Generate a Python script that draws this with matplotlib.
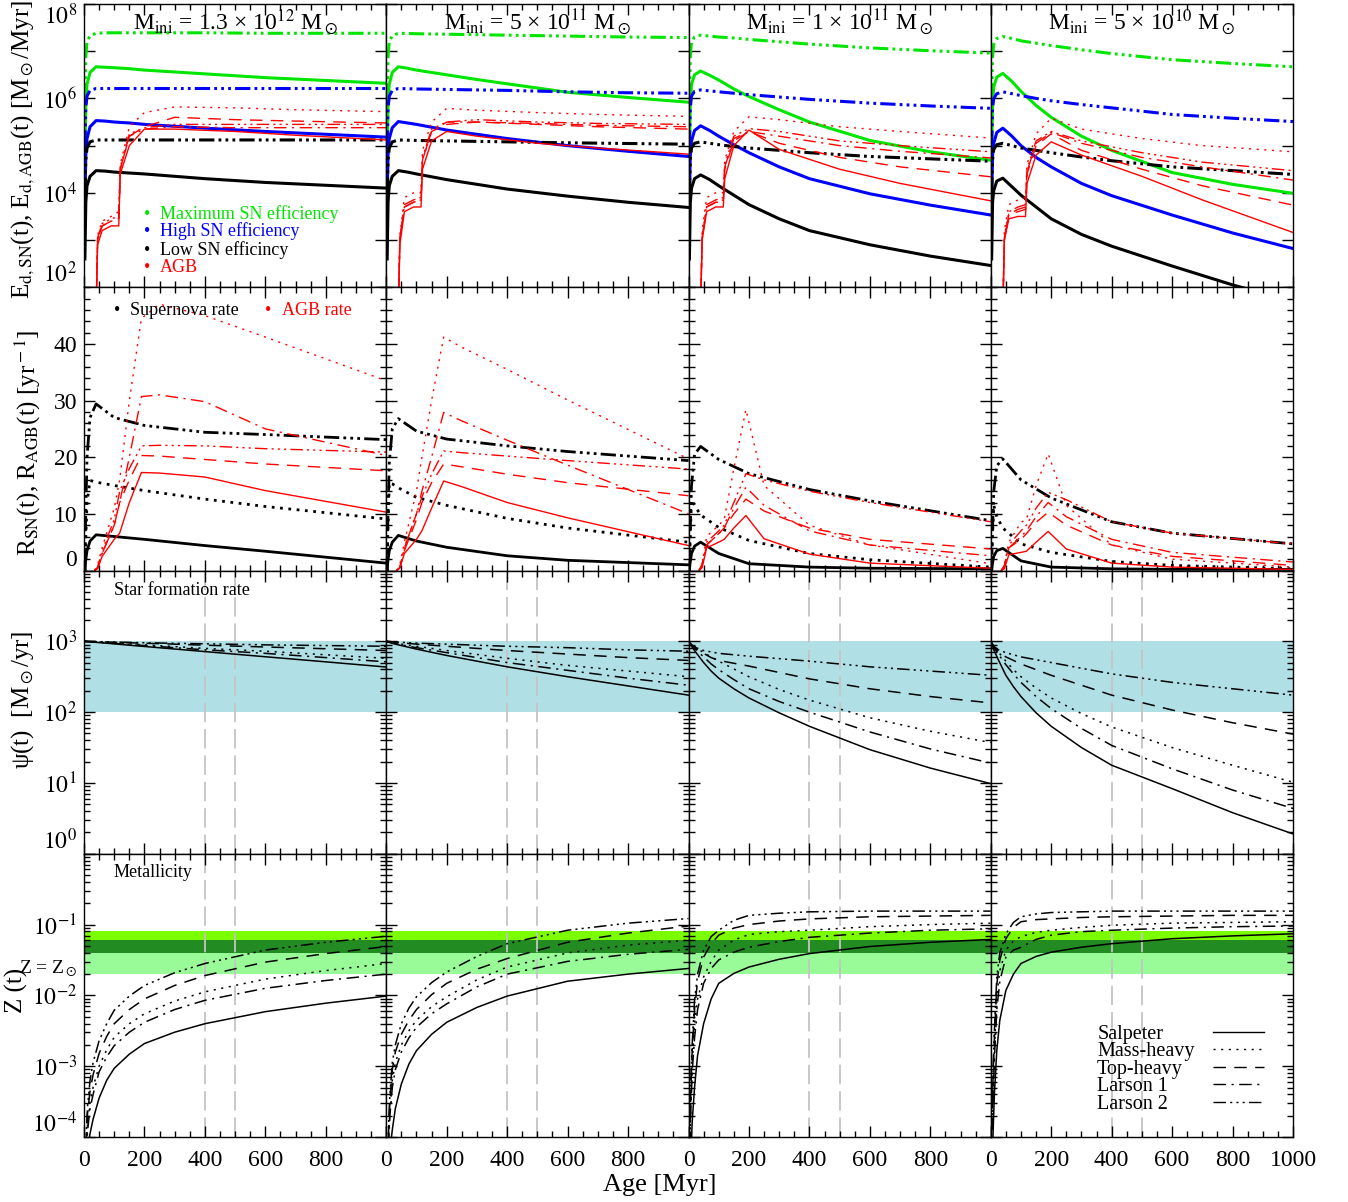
import matplotlib
matplotlib.use("Agg")
import matplotlib.pyplot as plt
import numpy as np
from matplotlib.lines import Line2D
from matplotlib.ticker import MultipleLocator, LogLocator, NullFormatter, NullLocator
import matplotlib.transforms as mtransforms

plt.rcParams['font.family'] = ['Liberation Serif', 'DejaVu Serif']
plt.rcParams['mathtext.fontset'] = 'stix'
plt.rcParams['lines.scale_dashes'] = False

# ---- data ----
masses = ["1.3 \u00d7 10$^{12}$", "5 \u00d7 10$^{11}$", "1 \u00d7 10$^{11}$", "5 \u00d7 10$^{10}$"]
imf_names = ["Salpeter", "Mass-heavy", "Top-heavy", "Larson 1", "Larson 2"]

# row 1: dust production by SNe, log10 [Msun/Myr], one list per column
ages_sn = [3, 6, 10, 20, 40, 70, 100, 150, 200, 300, 400, 600, 800, 1000]
sn_max_larson2 = [[6.0, 6.9, 7.2, 7.33, 7.38, 7.39, 7.39, 7.39, 7.39, 7.39, 7.39, 7.38, 7.38, 7.38],
                  [6.0, 6.9, 7.2, 7.33, 7.38, 7.375, 7.37, 7.365, 7.36, 7.35, 7.34, 7.32, 7.30, 7.29],
                  [6.0, 6.9, 7.2, 7.30, 7.34, 7.32, 7.30, 7.28, 7.25, 7.20, 7.15, 7.07, 7.01, 6.96],
                  [6.0, 6.9, 7.15, 7.27, 7.31, 7.27, 7.22, 7.17, 7.12, 7.03, 6.95, 6.82, 6.74, 6.67]]
sn_max_salpeter = [[4.8, 5.9, 6.3, 6.55, 6.67, 6.66, 6.65, 6.63, 6.60, 6.56, 6.52, 6.44, 6.38, 6.32],
                   [4.8, 5.9, 6.3, 6.55, 6.67, 6.64, 6.60, 6.55, 6.50, 6.40, 6.31, 6.13, 6.02, 5.92],
                   [4.8, 5.9, 6.3, 6.50, 6.58, 6.49, 6.39, 6.20, 6.04, 5.76, 5.50, 5.11, 4.87, 4.69],
                   [4.8, 5.9, 6.25, 6.45, 6.53, 6.36, 6.15, 5.85, 5.60, 5.20, 4.90, 4.43, 4.18, 3.99]]
sn_high_larson2 = [[5.0, 5.8, 6.05, 6.17, 6.21, 6.21, 6.21, 6.21, 6.21, 6.21, 6.21, 6.21, 6.21, 6.21],
                   [5.0, 5.8, 6.05, 6.17, 6.21, 6.205, 6.20, 6.195, 6.19, 6.18, 6.17, 6.14, 6.12, 6.11],
                   [5.0, 5.8, 6.05, 6.15, 6.18, 6.16, 6.14, 6.11, 6.08, 6.03, 5.98, 5.90, 5.84, 5.79],
                   [5.0, 5.8, 6.0, 6.10, 6.14, 6.10, 6.06, 6.00, 5.95, 5.87, 5.80, 5.66, 5.58, 5.51]]
sn_high_salpeter = [[3.9, 4.8, 5.15, 5.40, 5.53, 5.52, 5.50, 5.48, 5.45, 5.41, 5.37, 5.30, 5.24, 5.18],
                    [3.9, 4.8, 5.15, 5.38, 5.51, 5.48, 5.45, 5.39, 5.33, 5.24, 5.15, 5.00, 4.88, 4.77],
                    [3.9, 4.8, 5.1, 5.32, 5.42, 5.32, 5.20, 5.02, 4.85, 4.55, 4.30, 3.98, 3.74, 3.53],
                    [3.9, 4.8, 5.05, 5.28, 5.37, 5.20, 5.00, 4.75, 4.55, 4.20, 3.94, 3.53, 3.15, 2.82]]
sn_low_larson2 = [[4.0, 4.7, 4.95, 5.08, 5.12, 5.12, 5.12, 5.12, 5.12, 5.12, 5.12, 5.12, 5.12, 5.12],
                  [4.0, 4.7, 4.95, 5.08, 5.12, 5.115, 5.11, 5.105, 5.10, 5.09, 5.08, 5.06, 5.045, 5.03],
                  [4.0, 4.7, 4.95, 5.05, 5.08, 5.05, 5.02, 4.98, 4.95, 4.90, 4.85, 4.77, 4.72, 4.67],
                  [4.0, 4.7, 4.92, 5.02, 5.05, 5.00, 4.95, 4.90, 4.85, 4.76, 4.68, 4.55, 4.47, 4.39]]
sn_low_salpeter = [[2.6, 3.8, 4.15, 4.35, 4.47, 4.46, 4.44, 4.42, 4.40, 4.35, 4.30, 4.22, 4.16, 4.10],
                   [2.6, 3.8, 4.15, 4.35, 4.47, 4.44, 4.40, 4.34, 4.28, 4.18, 4.08, 3.93, 3.80, 3.69],
                   [2.6, 3.8, 4.1, 4.30, 4.38, 4.28, 4.15, 3.95, 3.75, 3.45, 3.20, 2.90, 2.66, 2.46],
                   [2.6, 3.8, 4.05, 4.25, 4.31, 4.13, 3.95, 3.70, 3.45, 3.12, 2.87, 2.45, 2.05, 1.70]]

# row 1: dust production by AGB stars, log10, per IMF then per column
ages_agb = [40, 45, 60, 90, 115, 120, 150, 200, 300, 500, 700, 1000]
agb_dust = {
    "Salpeter": [[1.5, 2.9, 3.2, 3.3, 3.3, 4.4, 5.0, 5.35, 5.35, 5.30, 5.22, 5.12],
                 [1.5, 2.9, 3.6, 3.7, 3.7, 4.5, 5.1, 5.30, 5.20, 5.05, 4.95, 4.82],
                 [1.5, 3.0, 3.6, 3.7, 3.7, 4.3, 5.0, 5.33, 4.92, 4.50, 4.20, 3.83],
                 [1.5, 3.0, 3.45, 3.5, 3.5, 4.2, 4.8, 5.08, 4.80, 4.35, 3.85, 3.16]],
    "Mass-heavy": [[1.5, 3.1, 3.4, 3.5, 3.6, 4.6, 5.4, 5.70, 5.82, 5.80, 5.76, 5.72],
                   [1.5, 3.1, 3.9, 4.0, 4.0, 4.9, 5.5, 5.79, 5.75, 5.70, 5.66, 5.62],
                   [1.5, 3.2, 3.9, 4.0, 4.0, 4.7, 5.3, 5.61, 5.55, 5.40, 5.30, 5.16],
                   [1.5, 3.2, 3.75, 3.85, 3.9, 4.6, 5.25, 5.58, 5.35, 5.15, 5.00, 4.87]],
    "Top-heavy": [[1.5, 3.0, 3.3, 3.4, 3.45, 4.5, 5.2, 5.40, 5.60, 5.55, 5.52, 5.48],
                  [1.5, 3.0, 3.7, 3.8, 3.85, 4.7, 5.3, 5.45, 5.50, 5.45, 5.40, 5.35],
                  [1.5, 3.0, 3.7, 3.8, 3.8, 4.5, 5.1, 5.30, 5.05, 4.75, 4.55, 4.34],
                  [1.5, 3.0, 3.55, 3.6, 3.65, 4.4, 5.0, 5.25, 4.90, 4.50, 4.15, 3.74]],
    "Larson 1": [[1.5, 3.0, 3.3, 3.4, 3.45, 4.5, 5.2, 5.35, 5.40, 5.38, 5.38, 5.38],
                 [1.5, 3.0, 3.7, 3.8, 3.85, 4.7, 5.3, 5.50, 5.50, 5.47, 5.43, 5.40],
                 [1.5, 3.0, 3.7, 3.8, 3.85, 4.55, 5.15, 5.30, 5.20, 5.00, 4.88, 4.74],
                 [1.5, 3.0, 3.55, 3.65, 3.7, 4.45, 5.05, 5.28, 5.05, 4.75, 4.55, 4.27]],
    "Larson 2": [[1.5, 3.05, 3.35, 3.45, 3.5, 4.55, 5.25, 5.38, 5.45, 5.45, 5.45, 5.45],
                 [1.5, 3.05, 3.75, 3.85, 3.9, 4.75, 5.35, 5.50, 5.55, 5.50, 5.47, 5.45],
                 [1.5, 3.05, 3.75, 3.85, 3.9, 4.6, 5.2, 5.36, 5.30, 5.10, 5.00, 4.87],
                 [1.5, 3.05, 3.6, 3.7, 3.75, 4.5, 5.1, 5.30, 5.10, 4.85, 4.65, 4.47]],
}

# row 2: supernova rates [1/yr]
ages_snr = [0, 3, 5, 10, 20, 40, 100, 200, 400, 600, 1000]
snr_salpeter = [[0, 0, 1.5, 3.5, 5.2, 6.3, 6.0, 5.5, 4.4, 3.4, 1.3],
                [0, 0, 1.5, 3.5, 5.0, 6.2, 5.2, 4.1, 2.6, 1.8, 1.0],
                [0, 0, 1.2, 3.0, 4.3, 5.0, 3.0, 1.2, 0.6, 0.4, 0.3],
                [0, 0, 1.0, 2.5, 3.5, 3.9, 1.7, 0.6, 0.3, 0.2, 0.2]]
snr_massheavy = [[0, 0, 4, 12, 15.9, 15.6, 15.0, 14.1, 12.6, 11.3, 9.1],
                 [0, 0, 6, 15.5, 15.3, 14.6, 12.9, 11.5, 9.2, 7.5, 5.0],
                 [0, 0, 5, 12.5, 11.5, 9.8, 7.6, 5.3, 3.0, 1.9, 0.6],
                 [0, 0, 5, 11.5, 9.5, 7.5, 4.7, 3.2, 1.6, 0.9, 0.3]]
snr_larson2 = [[0, 0, 8, 20, 27, 29.4, 27.0, 25.6, 24.4, 24.0, 23.1],
               [0, 0, 8, 19, 25, 26.8, 24.6, 23.2, 22.0, 21.0, 19.4],
               [0, 0, 6, 15, 20.5, 21.9, 19.6, 17.1, 14.3, 12.3, 8.8],
               [0, 0, 6, 14, 18.5, 19.7, 16.0, 12.8, 8.6, 6.6, 4.7]]

# row 2: AGB rates [1/yr]
ages_agbr = [35, 45, 60, 100, 118, 150, 190, 250, 400, 600, 1000]
agb_rate = {
    "Salpeter": [[0, 0.3, 2.5, 5.5, 6.6, 12, 17.3, 17.2, 16.5, 14.1, 10.3],
                 [0, 0.5, 3, 5.5, 7, 11, 15.8, 14.8, 12.0, 9.3, 4.4],
                 [0, 0.5, 4, 5, 5.5, 7.5, 9.7, 5.6, 2.9, 1.3, 0.4],
                 [0, 0.3, 2.8, 3.2, 3.4, 5, 6.9, 3.8, 1.3, 0.6, 0.2]],
    "Mass-heavy": [[0, 1, 4, 11, 16, 30, 44.5, 47, 45, 41.2, 33.5],
                   [0, 1, 5, 14, 20, 30, 41.2, 39.4, 35.5, 30.1, 19.7],
                   [0, 1, 6, 8, 9, 18, 28.4, 15, 8, 4.5, 1.2],
                   [0, 1, 5, 8.5, 9, 15, 20.6, 11.5, 4.5, 2.0, 0.6]],
    "Top-heavy": [[0, 0.5, 3, 8, 12, 16, 20.3, 20.2, 19.6, 18.8, 17.6],
                  [0, 0.5, 3.5, 9, 12, 15.5, 18.8, 18.3, 17.0, 15.5, 13.2],
                  [0, 1, 4.5, 6.5, 7.5, 10, 12.6, 10.5, 7.5, 5.5, 3.8],
                  [0, 0.8, 4, 5.5, 6.5, 8.5, 10.3, 8.0, 4.5, 2.5, 0.9]],
    "Larson 1": [[0, 0.5, 3, 8, 12, 20, 30.7, 31, 29.8, 25, 20.3],
                 [0, 0.5, 4, 10, 14, 20, 27.9, 26.4, 23.0, 18.6, 10.0],
                 [0, 1, 4.5, 6.5, 7.5, 11, 14.7, 11.5, 7.0, 4.5, 2.6],
                 [0, 0.8, 4, 6, 7, 9.5, 12.0, 9.5, 5.5, 3.2, 1.5]],
    "Larson 2": [[0, 0.5, 3.5, 9, 14, 18, 22.0, 22.1, 22.0, 21.5, 20.9],
                 [0, 0.5, 4, 10, 13, 17, 21.1, 20.8, 20.2, 19.4, 17.9],
                 [0, 1, 5, 7, 8, 12, 17.1, 16.0, 14.0, 12.0, 8.6],
                 [0, 0.8, 4.5, 7, 8, 11, 13.8, 12.5, 8.6, 6.6, 4.7]],
}

# row 3: star formation rate, log10 [Msun/yr]
ages_sfr = [0, 10, 25, 50, 75, 100, 150, 200, 300, 400, 600, 800, 1000]
sfr = {
    "Salpeter": [[3.0, 2.996, 2.99, 2.982, 2.973, 2.964, 2.945, 2.927, 2.891, 2.855, 2.782, 2.71, 2.637],
                 [3.0, 2.985, 2.965, 2.94, 2.915, 2.89, 2.845, 2.80, 2.72, 2.64, 2.50, 2.37, 2.24],
                 [3.0, 2.93, 2.84, 2.70, 2.58, 2.48, 2.33, 2.20, 1.99, 1.80, 1.47, 1.21, 0.99],
                 [3.0, 2.88, 2.74, 2.52, 2.36, 2.22, 1.99, 1.80, 1.50, 1.25, 0.92, 0.58, 0.28]],
    "Mass-heavy": [[3.0, 2.997, 2.993, 2.988, 2.982, 2.976, 2.963, 2.95, 2.925, 2.90, 2.86, 2.81, 2.76],
                   [3.0, 2.99, 2.98, 2.96, 2.945, 2.93, 2.90, 2.87, 2.815, 2.76, 2.66, 2.58, 2.50],
                   [3.0, 2.96, 2.91, 2.84, 2.78, 2.72, 2.61, 2.50, 2.32, 2.17, 1.92, 1.73, 1.57],
                   [3.0, 2.93, 2.85, 2.72, 2.60, 2.50, 2.34, 2.20, 1.98, 1.79, 1.50, 1.25, 1.01]],
    "Top-heavy": [[3.0, 2.999, 2.997, 2.994, 2.99, 2.987, 2.98, 2.973, 2.96, 2.945, 2.92, 2.895, 2.87],
                  [3.0, 2.996, 2.99, 2.98, 2.97, 2.96, 2.945, 2.93, 2.90, 2.87, 2.82, 2.77, 2.73],
                  [3.0, 2.95, 2.90, 2.83, 2.77, 2.73, 2.69, 2.65, 2.56, 2.47, 2.33, 2.22, 2.13],
                  [3.0, 2.92, 2.85, 2.78, 2.73, 2.68, 2.60, 2.52, 2.38, 2.24, 2.03, 1.85, 1.69]],
    "Larson 1": [[3.0, 2.997, 2.992, 2.985, 2.978, 2.97, 2.955, 2.94, 2.91, 2.88, 2.83, 2.77, 2.71],
                 [3.0, 2.99, 2.975, 2.95, 2.93, 2.91, 2.875, 2.84, 2.77, 2.70, 2.59, 2.48, 2.38],
                 [3.0, 2.95, 2.88, 2.78, 2.68, 2.60, 2.46, 2.33, 2.15, 2.00, 1.72, 1.48, 1.28],
                 [3.0, 2.92, 2.82, 2.67, 2.54, 2.42, 2.22, 2.05, 1.77, 1.53, 1.20, 0.90, 0.64]],
    "Larson 2": [[3.0, 2.999, 2.998, 2.996, 2.993, 2.99, 2.985, 2.98, 2.972, 2.965, 2.95, 2.94, 2.93],
                 [3.0, 2.997, 2.992, 2.985, 2.98, 2.975, 2.967, 2.96, 2.945, 2.93, 2.91, 2.88, 2.86],
                 [3.0, 2.95, 2.91, 2.87, 2.85, 2.83, 2.81, 2.79, 2.755, 2.72, 2.64, 2.58, 2.52],
                 [3.0, 2.93, 2.88, 2.84, 2.81, 2.78, 2.74, 2.70, 2.62, 2.54, 2.42, 2.33, 2.24]],
}

# row 4: metallicity, log10 Z
ages_z = [5, 8, 12, 20, 30, 50, 75, 100, 150, 200, 300, 400, 600, 800, 1000]
metal = {
    "Salpeter": [[-5.0, -4.6, -4.2, -3.95, -3.75, -3.45, -3.2, -3.03, -2.83, -2.68, -2.52, -2.40, -2.23, -2.11, -2.01],
                 [-5.0, -4.6, -4.2, -3.9, -3.6, -3.25, -2.97, -2.78, -2.55, -2.38, -2.17, -2.01, -1.80, -1.70, -1.62],
                 [-4.8, -4.3, -3.8, -3.3, -2.85, -2.4, -2.05, -1.83, -1.69, -1.60, -1.49, -1.41, -1.31, -1.25, -1.21],
                 [-4.4, -3.9, -3.4, -2.78, -2.35, -1.93, -1.70, -1.55, -1.45, -1.39, -1.32, -1.27, -1.20, -1.16, -1.13]],
    "Mass-heavy": [[-4.5, -4.1, -3.8, -3.5, -3.3, -3.0, -2.77, -2.59, -2.40, -2.26, -2.08, -1.95, -1.77, -1.65, -1.55],
                   [-4.4, -4.0, -3.65, -3.2, -2.95, -2.70, -2.50, -2.35, -2.16, -2.02, -1.78, -1.60, -1.40, -1.29, -1.22],
                   [-4.0, -3.5, -3.0, -2.4, -2.05, -1.74, -1.52, -1.36, -1.22, -1.14, -1.10, -1.08, -1.03, -1.0, -0.98],
                   [-3.8, -3.3, -2.8, -2.0, -1.65, -1.36, -1.23, -1.17, -1.11, -1.08, -1.04, -1.01, -0.98, -0.97, -0.96]],
    "Top-heavy": [[-4.4, -4.0, -3.65, -3.35, -3.12, -2.82, -2.58, -2.40, -2.20, -2.05, -1.86, -1.72, -1.53, -1.41, -1.31],
                  [-4.3, -3.9, -3.5, -3.05, -2.8, -2.55, -2.35, -2.20, -1.99, -1.83, -1.63, -1.48, -1.25, -1.12, -1.02],
                  [-3.8, -3.3, -2.8, -2.2, -1.8, -1.46, -1.27, -1.15, -1.05, -1.00, -0.95, -0.92, -0.89, -0.88, -0.87],
                  [-3.6, -3.1, -2.6, -1.85, -1.5, -1.20, -1.04, -0.96, -0.93, -0.92, -0.90, -0.89, -0.88, -0.87, -0.87]],
    "Larson 1": [[-4.6, -4.2, -3.9, -3.6, -3.4, -3.08, -2.87, -2.71, -2.52, -2.38, -2.20, -2.07, -1.90, -1.79, -1.70],
                 [-4.5, -4.1, -3.7, -3.3, -3.05, -2.80, -2.60, -2.45, -2.26, -2.12, -1.88, -1.70, -1.52, -1.42, -1.35],
                 [-4.1, -3.6, -3.1, -2.6, -2.2, -1.83, -1.62, -1.50, -1.39, -1.32, -1.24, -1.18, -1.12, -1.08, -1.06],
                 [-3.9, -3.4, -2.9, -2.2, -1.8, -1.46, -1.36, -1.32, -1.21, -1.15, -1.10, -1.08, -1.05, -1.03, -1.02]],
    "Larson 2": [[-4.3, -3.9, -3.55, -3.2, -2.95, -2.64, -2.40, -2.21, -2.01, -1.86, -1.68, -1.55, -1.36, -1.25, -1.165],
                 [-4.2, -3.8, -3.4, -2.95, -2.7, -2.40, -2.18, -2.02, -1.82, -1.67, -1.45, -1.27, -1.08, -0.98, -0.915],
                 [-3.7, -3.2, -2.7, -2.07, -1.7, -1.36, -1.17, -1.08, -0.94, -0.87, -0.84, -0.82, -0.81, -0.81, -0.81],
                 [-3.5, -3.0, -2.5, -1.74, -1.4, -1.13, -0.97, -0.89, -0.85, -0.83, -0.82, -0.81, -0.81, -0.81, -0.81]],
}

sfr_band = [1e2, 1e3]
z_bands = [0.02, 0.04, 0.06, 0.08]
marker_ages = [400, 500]

# ---- styles ----
imf_styles = {
    "Salpeter": "-",
    "Mass-heavy": (0, (1.5, 4)),
    "Top-heavy": (0, (9, 6)),
    "Larson 1": (0, (9, 4, 1.5, 4)),
    "Larson 2": (0, (9, 3, 1.5, 3, 1.5, 3, 1.5, 3)),
}
thick_dots = (0, (2, 4))
thick_d3 = (0, (11, 3, 2, 3, 2, 3, 2, 3))
GREEN, BLUE, RED = "#00e600", "#0000ff", "#ff0000"


def pw(a):
    return 10 ** np.array(a)


fig = plt.figure(figsize=(13.48, 12.02), dpi=100)
axes = fig.subplots(4, 4, gridspec_kw=dict(hspace=0, wspace=0))
fig.subplots_adjust(left=84 / 1348, right=1293 / 1348, top=1 - 4 / 1202, bottom=1 - 1137 / 1202)

for c in range(4):
    # row 1
    ax = axes[0, c]
    ax.plot(ages_sn, pw(sn_max_larson2[c]), color=GREEN, lw=2.2, ls=thick_d3)
    ax.plot(ages_sn, pw(sn_max_salpeter[c]), color=GREEN, lw=2.2)
    ax.plot(ages_sn, pw(sn_high_larson2[c]), color=BLUE, lw=2.2, ls=thick_d3)
    ax.plot(ages_sn, pw(sn_high_salpeter[c]), color=BLUE, lw=2.2)
    ax.plot(ages_sn, pw(sn_low_larson2[c]), color="k", lw=2.2, ls=thick_d3)
    ax.plot(ages_sn, pw(sn_low_salpeter[c]), color="k", lw=2.2)
    for name in imf_names:
        ax.plot(ages_agb, pw(agb_dust[name][c]), color=RED, lw=1.0, ls=imf_styles[name])
    ax.set_yscale("log")
    ax.set_ylim(1e2, 1e8)
    ax.text(0.5, 0.935, r"M$_{\rm ini}$ = " + masses[c] + r" M$_\odot$", transform=ax.transAxes,
            ha="center", va="center", fontsize=17)

    # row 2
    ax = axes[1, c]
    ax.plot(ages_snr, snr_salpeter[c], color="k", lw=2.0)
    ax.plot(ages_snr, snr_massheavy[c], color="k", lw=2.0, ls=thick_dots)
    ax.plot(ages_snr, snr_larson2[c], color="k", lw=2.0, ls=thick_d3)
    for name in imf_names:
        ax.plot(ages_agbr, agb_rate[name][c], color=RED, lw=1.0, ls=imf_styles[name])
    ax.set_ylim(0, 50)

    # row 3
    ax = axes[2, c]
    ax.axhspan(sfr_band[0], sfr_band[1], color="#b0e0e6", lw=0, zorder=0)
    for t in marker_ages:
        ax.axvline(t, color="#c4c4c4", lw=1.3, ls=(0, (14, 5)), zorder=1)
    for name in imf_names:
        ax.plot(ages_sfr, pw(sfr[name][c]), color="k", lw=1.1, ls=imf_styles[name], zorder=2)
    ax.set_yscale("log")
    ax.set_ylim(1, 1e4)

    # row 4
    ax = axes[3, c]
    ax.axhspan(z_bands[0], z_bands[1], color="#98fb98", lw=0, zorder=0)
    ax.axhspan(z_bands[1], z_bands[2], color="#228b22", lw=0, zorder=0)
    ax.axhspan(z_bands[2], z_bands[3], color="#7cfc00", lw=0, zorder=0)
    for t in marker_ages:
        ax.axvline(t, color="#c4c4c4", lw=1.3, ls=(0, (14, 5)), zorder=1)
    for name in imf_names:
        ax.plot(ages_z, pw(metal[name][c]), color="k", lw=1.1, ls=imf_styles[name], zorder=2)
    ax.set_yscale("log")
    ax.set_ylim(1e-4, 1)

# ---- ticks ----
row_ticks = [
    ([1e2, 1e3, 1e4, 1e5, 1e6, 1e7, 1e8],
     [r"$10^{2}$", "", r"$10^{4}$", "", r"$10^{6}$", "", r"$10^{8}$"]),
    ([0, 10, 20, 30, 40], ["0", "10", "20", "30", "40"]),
    ([1, 10, 100, 1000, 1e4], [r"$10^{0}$", r"$10^{1}$", r"$10^{2}$", r"$10^{3}$", ""]),
    ([1e-4, 1e-3, 1e-2, 1e-1, 1], [r"$10^{-4}$", r"$10^{-3}$", r"$10^{-2}$", r"$10^{-1}$", ""]),
]
for r in range(4):
    for c in range(4):
        ax = axes[r, c]
        ax.set_xlim(0, 1000)
        ax.set_xticks([0, 200, 400, 600, 800, 1000])
        if c < 3:
            ax.set_xticklabels(["0", "200", "400", "600", "800", ""])
        ax.xaxis.set_minor_locator(MultipleLocator(50))
        ticks, labels = row_ticks[r]
        ax.set_yticks(ticks)
        ax.set_yticklabels(labels)
        if r == 0:
            ax.yaxis.set_minor_locator(NullLocator())
        elif r == 1:
            ax.yaxis.set_minor_locator(MultipleLocator(2))
        else:
            ax.yaxis.set_minor_locator(LogLocator(base=10, subs=np.arange(2, 10), numticks=20))
            ax.yaxis.set_minor_formatter(NullFormatter())
        ax.tick_params(which="both", direction="in", top=True, right=True, labelsize=17, width=1.0)
        ax.tick_params(which="major", length=8)
        ax.tick_params(which="minor", length=4)
        ax.tick_params(axis="x", pad=9)
        ax.tick_params(axis="y", pad=5)
        ax.tick_params(labelbottom=(r == 3), labelleft=(c == 0))
        for s in ax.spines.values():
            s.set_linewidth(1.0)
    # keep the end labels of each row inside the panel
    yt = axes[r, 0].yaxis.get_major_ticks()
    yt[0].label1.set_va("bottom")
    if r == 0:
        yt[-1].label1.set_va("top")

# ---- annotations ----
ax = axes[0, 0]
for i, (lab, col) in enumerate([("Maximum SN efficiency", GREEN), ("High SN efficiency", BLUE),
                                ("Low SN efficincy", "k"), ("AGB", RED)]):
    y = [0.258, 0.198, 0.131, 0.071][i]
    ax.text(0.209, y, "\u2022", color=col, transform=ax.transAxes, ha="center", va="center", fontsize=13)
    ax.text(0.252, y, lab, color=col, transform=ax.transAxes, ha="left", va="center", fontsize=13)

ax = axes[1, 0]
ax.text(0.109, 0.918, "\u2022", color="k", transform=ax.transAxes, ha="center", va="center", fontsize=13)
ax.text(0.152, 0.918, "Supernova rate", color="k", transform=ax.transAxes, ha="left", va="center", fontsize=13)
ax.text(0.609, 0.918, "\u2022", color=RED, transform=ax.transAxes, ha="center", va="center", fontsize=13)
ax.text(0.656, 0.918, "AGB rate", color=RED, transform=ax.transAxes, ha="left", va="center", fontsize=13)

axes[2, 0].text(0.099, 0.93, "Star formation rate", transform=axes[2, 0].transAxes,
                ha="left", va="center", fontsize=13)
axes[3, 0].text(0.099, 0.933, "Metallicity", transform=axes[3, 0].transAxes,
                ha="left", va="center", fontsize=13)

ax = axes[3, 0]
trans = mtransforms.blended_transform_factory(ax.transAxes, ax.transData)
ax.text(-0.02, 0.024, r"Z = Z$_\odot$", transform=trans, ha="right", va="center", fontsize=14)

# IMF legend: labels left-aligned, line samples in a second column
ax = axes[3, 3]
blank = [Line2D([], [], lw=0) for _ in imf_names]
leg1 = ax.legend(blank, imf_names, loc="upper left", bbox_to_anchor=(0.352, 0.397), frameon=False,
                 fontsize=14.5, handlelength=0, handletextpad=0, labelspacing=-0.08,
                 borderpad=0, borderaxespad=0)
ax.add_artist(leg1)
samples = [Line2D([], [], color="k", lw=1.0, ls=imf_styles[n]) for n in imf_names]
ax.legend(samples, [" "] * 5, loc="upper left", bbox_to_anchor=(0.736, 0.397), frameon=False,
          fontsize=14.5, handlelength=2.5, handletextpad=0, labelspacing=-0.08,
          borderpad=0, borderaxespad=0)

# axis labels
fig.text(23 / 1348, 1 - 150 / 1202, r"E$_{\rm d,SN}$(t), E$_{\rm d,AGB}$(t) [M$_\odot$/Myr]",
         rotation=90, ha="center", va="center", fontsize=18)
fig.text(28 / 1348, 1 - 443 / 1202, r"R$_{\rm SN}$(t), R$_{\rm AGB}$(t) [yr$^{\rm -1}$]",
         rotation=90, ha="center", va="center", fontsize=18)
fig.text(23 / 1348, 1 - 700 / 1202, "\u03c8" + r"(t)  [M$_\odot$/yr]",
         rotation=90, ha="center", va="center", fontsize=18)
fig.text(16 / 1348, 1 - 990 / 1202, "Z (t)", rotation=90, ha="center", va="center", fontsize=18)
fig.text(660 / 1348, 1 - 1185 / 1202, "Age [Myr]", ha="center", va="center", fontsize=19)

fig.savefig("out.png", dpi=100)
